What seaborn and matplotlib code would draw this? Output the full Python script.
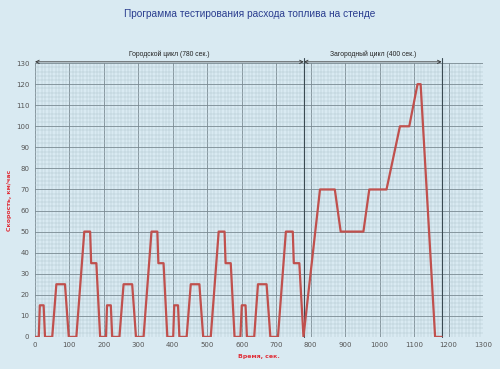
import matplotlib
matplotlib.use("Agg")
import matplotlib.pyplot as plt
import numpy as np
import pandas as pd
import seaborn as sns

# time (s) and speed (km/h)
time_s = [
    0, 11, 14, 25, 29, 50, 62, 87, 98, 120, 143, 160, 163, 178, 189,
    195, 206, 209, 220, 224, 245, 257, 282, 293, 315, 338, 355, 358, 373, 384,
    390, 401, 404, 415, 419, 440, 452, 477, 488, 510, 533, 550, 553, 568, 579,
    585, 596, 600, 611, 615, 636, 647, 672, 683, 705, 728, 748, 751, 767, 779,
    827, 870, 887, 953, 970, 1020, 1059, 1086, 1110, 1119, 1161, 1180,
]
speed_kmh = [
    0, 0, 15, 15, 0, 0, 25, 25, 0, 0, 50, 50, 35, 35, 0,
    0, 0, 15, 15, 0, 0, 25, 25, 0, 0, 50, 50, 35, 35, 0,
    0, 0, 15, 15, 0, 0, 25, 25, 0, 0, 50, 50, 35, 35, 0,
    0, 0, 15, 15, 0, 0, 25, 25, 0, 0, 50, 50, 35, 35, 0,
    70, 70, 50, 50, 70, 70, 100, 100, 120, 120, 0, 0,
]
phase_bounds = [0, 780, 1180]
phase_labels = ["Городской цикл (780 сек.)", "Загородный цикл (400 сек.)"]

BG = "#d9eaf2"
sns.set_theme(style="white")
plt.rcParams["font.family"] = ["DejaVu Sans"]

df = pd.DataFrame({"t": time_s, "v": speed_kmh})

fig = plt.figure(figsize=(5.0, 3.69), dpi=100, facecolor=BG)
ax = fig.add_axes([0.07, 0.087, 0.896, 0.742])
ax.set_facecolor(BG)

sns.lineplot(data=df, x="t", y="v", sort=False, estimator=None,
             color="#c0504d", lw=1.6, ax=ax, zorder=5)

ax.set_xlim(0, 1300)
ax.set_ylim(0, 130)
ax.set_xticks(np.arange(0, 1301, 100))
ax.set_xticks(np.arange(0, 1301, 10), minor=True)
ax.set_yticks(np.arange(0, 131, 10))
ax.set_yticks(np.arange(0, 131, 2), minor=True)
ax.grid(which="major", color="#7a8a92", lw=0.6)
ax.grid(which="minor", color="#b2c5ce", lw=0.35)
ax.set_axisbelow(True)
for s in ax.spines.values():
    s.set_visible(False)
ax.tick_params(which="both", length=0, labelsize=5, colors="#555555", pad=4)

ax.set_xlabel("Время, сек.", fontsize=4.5, color="#e0303a", fontweight="bold",
              labelpad=4)
ax.set_ylabel("Скорость, км/час", fontsize=4.5, color="#e0303a", fontweight="bold",
              labelpad=3)

# phase boundaries and arrows
for b in phase_bounds[1:]:
    ax.plot([b, b], [0, 132.5], color="#3a4a52", lw=0.8, clip_on=False, zorder=4)
for (a, b), lab in zip(zip(phase_bounds[:-1], phase_bounds[1:]), phase_labels):
    ax.annotate("", xy=(b, 130.6), xytext=(a, 130.6), annotation_clip=False,
                arrowprops=dict(arrowstyle="<->", color="#333333", lw=0.6,
                                shrinkA=0, shrinkB=0, mutation_scale=6))
    ax.text((a + b) / 2, 132.5, lab, ha="center", va="bottom", fontsize=4.9,
            color="#222222", family=["Liberation Sans", "DejaVu Sans"])

fig.text(0.5, 0.963, "Программа тестирования расхода топлива на стенде",
         ha="center", va="center", fontsize=7.3, color="#2a3d8f",
         family=["Liberation Sans", "DejaVu Sans"])

fig.savefig("out.png", dpi=100, facecolor=BG)
